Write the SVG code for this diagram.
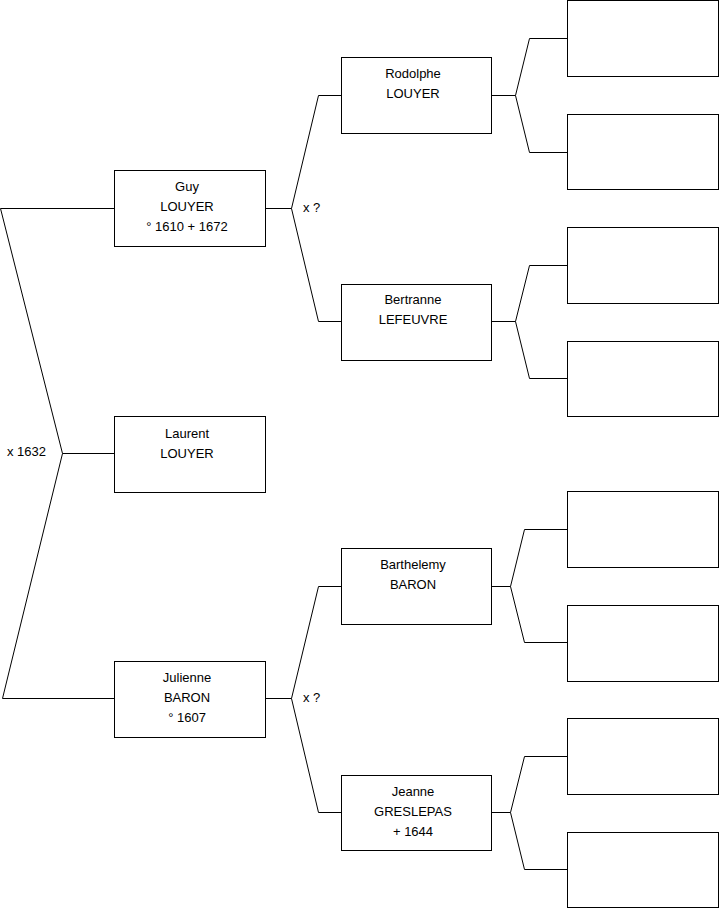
<svg xmlns="http://www.w3.org/2000/svg" width="719" height="908" viewBox="0 0 719 908">
<style>
.box{fill:#fff;stroke:#000;stroke-width:1}
.ln{fill:none;stroke:#000;stroke-width:1}
text{font-family:"Liberation Sans",Arial,sans-serif;font-size:13px;fill:#000}
.c{text-anchor:middle}
</style>
<rect width="719" height="908" fill="#fff"/>
<g id="connectors">
<path class="ln" d="M0.5,208.5 H114.5 M0.5,208.5 L62.5,453.5 L2.5,698.5 H114.5 M62.5,453.5 H114.5"/>
<path class="ln" d="M265.5,208.5 H291.5 M318.5,95.5 L291.5,208.5 L318.5,321.5 M318.5,95.5 H341 M318.5,321.5 H341"/>
<path class="ln" d="M265.5,698.5 H291.5 M318.5,586.5 L291.5,698.5 L318.5,812.5 M318.5,586.5 H341 M318.5,812.5 H341"/>
<path class="ln" d="M492,95.5 H515.5 M529.5,38.5 L515.5,95.5 L529.5,152.5 M529.5,38.5 H567 M529.5,152.5 H567"/>
<path class="ln" d="M492,321.5 H515.5 M529.5,265.5 L515.5,321.5 L529.5,378.5 M529.5,265.5 H567 M529.5,378.5 H567"/>
<path class="ln" d="M492,586.5 H510.5 M524.5,529.5 L510.5,586.5 L524.5,642.5 M524.5,529.5 H567 M524.5,642.5 H567"/>
<path class="ln" d="M492,812.5 H510.5 M524.5,756.5 L510.5,812.5 L524.5,869.5 M524.5,756.5 H567 M524.5,869.5 H567"/>
<text x="7" y="456">x 1632</text>
<text x="303" y="212">x ?</text>
<text x="303" y="702">x ?</text>
</g>
<g id="guy"><rect class="box" x="114.5" y="170.5" width="151" height="76"/>
<text class="c" x="187" y="191">Guy</text><text class="c" x="187" y="211">LOUYER</text><text class="c" x="187" y="231">° 1610 + 1672</text></g>
<g id="laurent"><rect class="box" x="114.5" y="416.5" width="151" height="76"/>
<text class="c" x="187" y="438">Laurent</text><text class="c" x="187" y="458">LOUYER</text></g>
<g id="julienne"><rect class="box" x="114.5" y="661.5" width="151" height="76"/>
<text class="c" x="187" y="682">Julienne</text><text class="c" x="187" y="702">BARON</text><text class="c" x="187" y="722">° 1607</text></g>
<g id="rodolphe"><rect class="box" x="341.5" y="57.5" width="150" height="76"/>
<text class="c" x="413" y="78">Rodolphe</text><text class="c" x="413" y="98">LOUYER</text></g>
<g id="bertranne"><rect class="box" x="341.5" y="284.5" width="150" height="76"/>
<text class="c" x="413" y="304">Bertranne</text><text class="c" x="413" y="324">LEFEUVRE</text></g>
<g id="barthelemy"><rect class="box" x="341.5" y="548.5" width="150" height="76"/>
<text class="c" x="413" y="569">Barthelemy</text><text class="c" x="413" y="589">BARON</text></g>
<g id="jeanne"><rect class="box" x="341.5" y="775.5" width="150" height="75"/>
<text class="c" x="413" y="796">Jeanne</text><text class="c" x="413" y="816">GRESLEPAS</text><text class="c" x="413" y="836">+ 1644</text></g>
<g id="g3a"><rect class="box" x="567.5" y="0.5" width="151" height="76"/></g>
<g id="g3b"><rect class="box" x="567.5" y="114.5" width="151" height="75"/></g>
<g id="g3c"><rect class="box" x="567.5" y="227.5" width="151" height="76"/></g>
<g id="g3d"><rect class="box" x="567.5" y="341.5" width="151" height="75"/></g>
<g id="g3e"><rect class="box" x="567.5" y="491.5" width="151" height="76"/></g>
<g id="g3f"><rect class="box" x="567.5" y="605.5" width="151" height="76"/></g>
<g id="g3g"><rect class="box" x="567.5" y="718.5" width="151" height="76"/></g>
<g id="g3h"><rect class="box" x="567.5" y="832.5" width="151" height="75"/></g>
</svg>
